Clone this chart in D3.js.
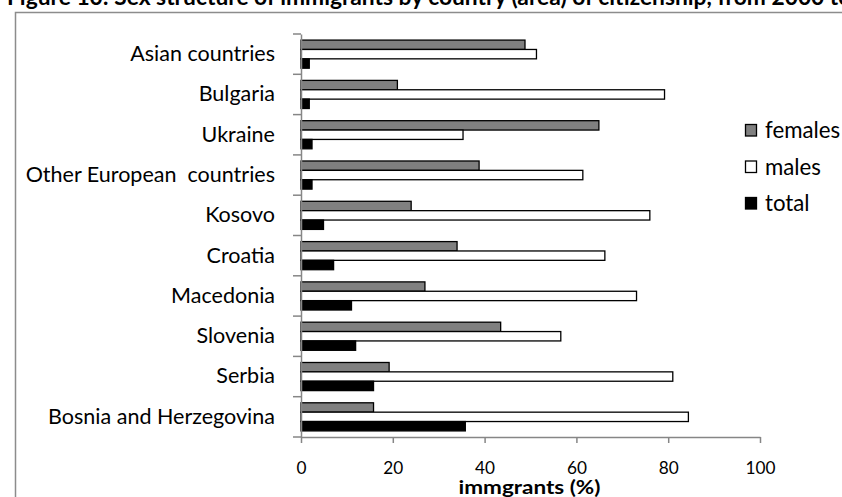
<!DOCTYPE html>
<html><head><meta charset="utf-8">
<script src="https://cdn.jsdelivr.net/npm/d3@7"></script>
<style>
body{margin:0;background:#fff;}
svg{display:block;font-family:Lato,"Open Sans",sans-serif;}
</style></head>
<body><svg id="c" width="842" height="497"></svg>
<script>
const categories = ["Asian countries","Bulgaria","Ukraine","Other European  countries","Kosovo","Croatia","Macedonia","Slovenia","Serbia","Bosnia and Herzegovina"];
const seriesNames = ["females","males","total"];
const females = [48.8,21.0,64.9,38.8,24.0,34.0,27.0,43.5,19.2,15.8];
const males   = [51.3,79.2,35.3,61.4,76.0,66.2,73.1,56.6,81.0,84.4];
const total   = [1.8,1.8,2.4,2.4,4.9,7.1,11.0,11.9,15.8,35.8];
const xTicks = [0,20,40,60,80,100];
const titleText = "Figure 10: Sex structure of immigrants by country (area) of citizenship, from 2000 to";
const xTitle = "immgrants (%)";

const colors = {females:"#808080", males:"#ffffff", total:"#000000"};
const values = {females, males, total};
const FONT = "Lato, 'Open Sans', sans-serif";

const svg = d3.select("#c");
const mLeft = 301, mRight = 760, mTop = 34, mBottom = 437;

function fitSize(str, target, weight){
  const t = svg.append("text").attr("font-family",FONT).attr("font-size",20)
    .attr("font-weight",weight||"normal").style("white-space","pre").text(str);
  const w = t.node().getComputedTextLength(); t.remove();
  return 20*target/w;
}
const catSize = fitSize("Bosnia and Herzegovina", 227);
const tickSize = fitSize("100", 30);
const legendSize = fitSize("males", 56);
const titleSize = fitSize(titleText, 845, "bold");

// outer frame
svg.append("path").attr("d",`M15.5,${497}V12.5H842`).attr("fill","none").attr("stroke","#8c8c8c").attr("stroke-width",1.5);

// title (cut off at top)
svg.append("text").attr("x",7).attr("y",5).attr("font-weight","bold").attr("font-size",titleSize)
  .attr("font-family",FONT).text(titleText);

const x = d3.scaleLinear().domain([0,100]).range([mLeft,mRight]);
const y0 = d3.scaleBand().domain(categories).range([mTop,mBottom]).padding(0);
const y1 = d3.scaleBand().domain(seriesNames).range([0,y0.bandwidth()]).paddingInner(0).paddingOuter(0.65);

const g = svg.append("g");
categories.forEach((c,i)=>{
  seriesNames.forEach(s=>{
    const v = values[s][i];
    g.append("rect")
      .attr("x",x(0)).attr("y",y0(c)+y1(s))
      .attr("width",x(v)-x(0)).attr("height",y1.bandwidth())
      .attr("fill",colors[s]).attr("stroke","#000").attr("stroke-width",1.3);
  });
});

// x axis
const xAxis = d3.axisBottom(x).tickValues(xTicks).tickSize(6).tickSizeOuter(0).tickFormat(d3.format("d"));
const xg = svg.append("g").attr("transform",`translate(0,${mBottom})`).call(xAxis);
xg.attr("font-family",FONT);
xg.select(".domain").attr("stroke","#868686").attr("stroke-width",1.5);
xg.selectAll(".tick line").attr("stroke","#868686").attr("stroke-width",1.5);
xg.selectAll(".tick text").attr("font-size",tickSize).attr("font-family",FONT).attr("fill","#000").attr("dy",null).attr("y",37);

// y axis
const yAxis = d3.axisLeft(y0).tickSize(0).tickPadding(26);
const yg = svg.append("g").attr("transform",`translate(${mLeft},0)`).call(yAxis);
yg.attr("font-family",FONT);
yg.select(".domain").attr("stroke","#868686").attr("stroke-width",1.5);
yg.selectAll(".tick text").attr("font-size",catSize).attr("font-family",FONT).attr("fill","#000").style("white-space","pre");
const bounds = categories.map(c=>y0(c)).concat([mBottom]);
yg.selectAll("line.bt").data(bounds).join("line").attr("class","bt")
  .attr("x1",-8).attr("x2",0).attr("y1",d=>d).attr("y2",d=>d)
  .attr("stroke","#868686").attr("stroke-width",1.5);

// axis title
svg.append("text").attr("x",(mLeft+mRight)/2 - 1).attr("y",494).attr("text-anchor","middle")
  .attr("font-family",FONT).attr("font-weight","bold").attr("font-size",18)
  .attr("textLength",142).attr("lengthAdjust","spacingAndGlyphs").text(xTitle);

// legend
const lg = svg.append("g").attr("transform","translate(745,124)");
seriesNames.forEach((s,i)=>{
  const r = lg.append("g").attr("transform",`translate(0,${i*36.5})`);
  r.append("rect").attr("x",0.5).attr("y",0.5).attr("width",11).attr("height",11.5)
    .attr("fill",colors[s]).attr("stroke","#000").attr("stroke-width",1.3);
  r.append("text").attr("x",20).attr("y",6).attr("dy","0.36em").attr("font-family",FONT)
    .attr("font-size",legendSize).text(s);
});
</script></body></html>
